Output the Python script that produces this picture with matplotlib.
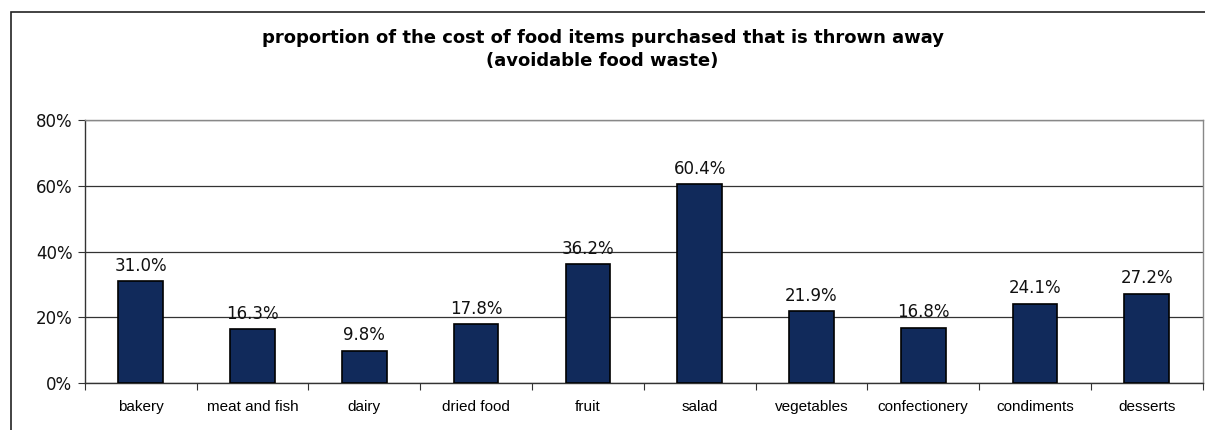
import matplotlib.pyplot as plt
from matplotlib.patches import Rectangle
from matplotlib.ticker import FuncFormatter

# Data
categories = ["bakery", "meat and fish", "dairy", "dried food", "fruit", "salad",
              "vegetables", "confectionery", "condiments", "desserts"]
waste_share = [31.0, 16.3, 9.8, 17.8, 36.2, 60.4, 21.9, 16.8, 24.1, 27.2]
y_ticks = [0, 20, 40, 60, 80]

bar_colour = "#112a5b"

fig = plt.figure(figsize=(12.05, 4.3), dpi=100)
ax = fig.add_axes([0.0705, 0.1093, 0.9275, 0.6116])

x = range(len(categories))
ax.bar(x, waste_share, width=0.4, color=bar_colour, edgecolor="black", linewidth=1.2, zorder=3)

for xi, v in zip(x, waste_share):
    ax.annotate(f"{v:.1f}%", (xi, v), xytext=(0, 7.5), textcoords="offset points",
                ha="center", va="baseline", fontsize=12, family="DejaVu Sans",
                color="#111111", zorder=4)

ax.set_xlim(-0.5, len(categories) - 0.5)
ax.set_ylim(0, 80)
ax.set_yticks(y_ticks)
ax.yaxis.set_major_formatter(FuncFormatter(lambda v, p: f"{v:.0f}%"))
ax.set_xticks([i + 0.5 for i in range(-1, len(categories))])
ax.set_xticklabels([])
ax.set_xticks(list(x), minor=True)
ax.set_xticklabels(categories, minor=True, fontsize=11, family="Liberation Sans")
ax.tick_params(axis="x", which="minor", length=0, pad=12)
ax.tick_params(axis="x", which="major", length=5, direction="out", color="#333333")
ax.tick_params(axis="y", length=5, direction="out", labelsize=12, color="#333333", pad=4)
for lab in ax.get_yticklabels():
    lab.set_family("DejaVu Sans")
    lab.set_color("#111111")

ax.grid(axis="y", color="#333333", linewidth=0.9, zorder=0)
ax.spines["left"].set_color("#333333")
ax.spines["bottom"].set_color("#333333")
ax.spines["top"].set_color("#888888")
ax.spines["right"].set_color("#888888")
for s in ax.spines.values():
    s.set_linewidth(1.0)

fig.text(0.5, 1 - 38 / 430, "proportion of the cost of food items purchased that is thrown away",
         ha="center", va="center", fontsize=13, fontweight="bold", family="DejaVu Sans")
fig.text(0.5, 1 - 61 / 430, "(avoidable food waste)",
         ha="center", va="center", fontsize=13, fontweight="bold", family="DejaVu Sans")

# outer chart border
fig.patches.append(Rectangle((11 / 1205, -0.1), 1.2, 1.1 - 12 / 430, transform=fig.transFigure,
                             fill=False, edgecolor="#222222", linewidth=1.2))

fig.savefig("out.png", dpi=100)
